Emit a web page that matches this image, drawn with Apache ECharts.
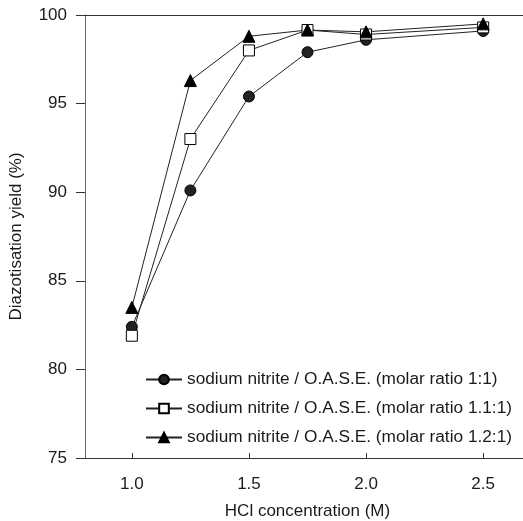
<!DOCTYPE html>
<html><head><meta charset="utf-8">
<script src="https://cdn.jsdelivr.net/npm/echarts@6/dist/echarts.min.js"></script>
<style>html,body{margin:0;padding:0;background:#fff}#c{width:523px;height:521px}</style>
</head><body><div id="c"></div>
<script>
const hcl = [1.0, 1.25, 1.5, 1.75, 2.0, 2.5];
const ratio11 = [82.4, 90.1, 95.4, 97.9, 98.6, 99.1];
const ratio111 = [81.9, 93.0, 98.0, 99.15, 98.9, 99.3];
const ratio121 = [83.5, 96.3, 98.8, 99.15, 99.05, 99.5];
const seriesNames = [
  'sodium nitrite / O.A.S.E. (molar ratio 1:1)',
  'sodium nitrite / O.A.S.E. (molar ratio 1.1:1)',
  'sodium nitrite / O.A.S.E. (molar ratio 1.2:1)'
];
const xTicks = [1.0, 1.5, 2.0, 2.5];
const yTicks = [75, 80, 85, 90, 95, 100];

const font = 'Liberation Sans, Arial, sans-serif';
const txt = '#1a1a1a';
const pair = v => hcl.map((x, i) => [x, v[i]]);
const chart = echarts.init(document.getElementById('c'));
chart.setOption({
  animation: false,
  grid: {left: 85, right: -7, top: 15, bottom: 63, outerBoundsMode: 'none', containLabel: false},
  legend: {
    left: 140, top: 366, orient: 'vertical', itemGap: 12,
    itemWidth: 36, itemHeight: 12,
    textStyle: {fontFamily: font, fontSize: 17.25, color: txt},
    data: seriesNames
  },
  xAxis: [{
    type: 'value', min: 0.8, max: 2.7,
    name: 'HCl concentration (M)', nameLocation: 'middle', nameGap: 45,
    nameTextStyle: {fontFamily: font, fontSize: 17, color: txt},
    axisLine: {lineStyle: {color: '#333', width: 1}},
    axisTick: {inside: true, length: 5, customValues: xTicks, lineStyle: {color: '#333'}},
    axisLabel: {customValues: xTicks, formatter: v => v.toFixed(1), margin: 18,
      fontFamily: font, fontSize: 17, color: txt},
    splitLine: {show: false}
  }, {
    type: 'value', position: 'top', min: 0.8, max: 2.7,
    axisLine: {lineStyle: {color: '#333', width: 1}},
    axisTick: {show: false}, axisLabel: {show: false}, splitLine: {show: false}
  }],
  yAxis: {
    type: 'value', min: 75, max: 100, interval: 5,
    name: 'Diazotisation yield (%)', nameLocation: 'middle', nameGap: 60,
    nameTextStyle: {fontFamily: font, fontSize: 17, color: txt},
    axisLine: {lineStyle: {color: '#666', width: 1}},
    axisTick: {length: 9, lineStyle: {color: '#333'}},
    axisLabel: {margin: 18, fontFamily: font, fontSize: 17, color: txt},
    splitLine: {show: false}
  },
  series: [
    {name: seriesNames[0], type: 'line', data: pair(ratio11), symbol: 'circle', symbolSize: 11,
      lineStyle: {color: '#222', width: 1}, itemStyle: {color: '#222', borderColor: '#000', borderWidth: 1}},
    {name: seriesNames[1], type: 'line', data: pair(ratio111), symbol: 'rect', symbolSize: 11,
      lineStyle: {color: '#222', width: 1}, itemStyle: {color: '#fff', borderColor: '#000', borderWidth: 1}},
    {name: seriesNames[2], type: 'line', data: pair(ratio121), symbol: 'triangle', symbolSize: 12,
      lineStyle: {color: '#222', width: 1}, itemStyle: {color: '#000', borderColor: '#000', borderWidth: 1}}
  ]
});
</script></body></html>
